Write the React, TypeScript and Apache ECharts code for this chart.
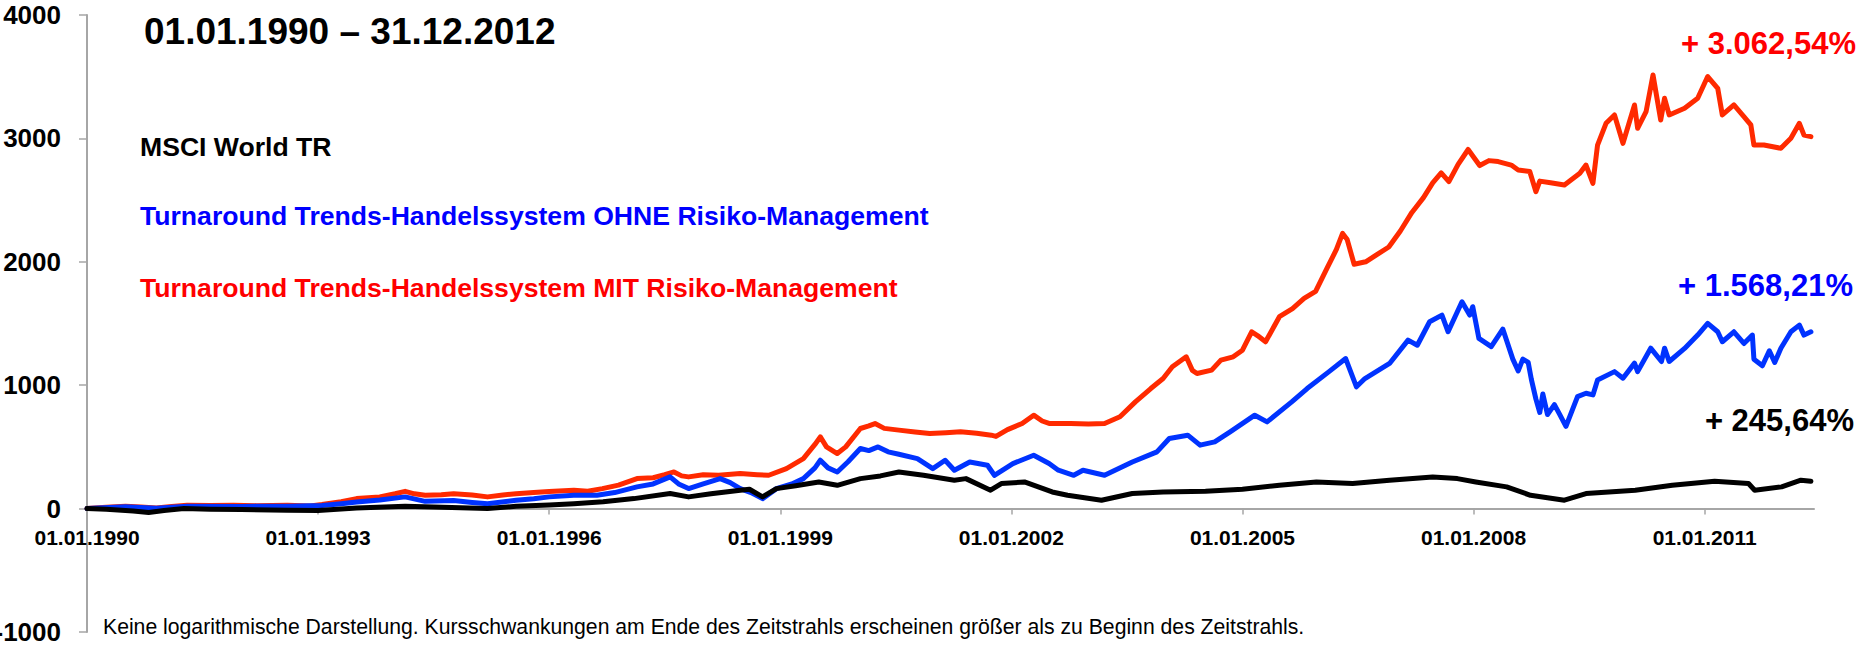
import React, { useEffect, useRef } from 'react';
import * as echarts from 'echarts';

const FONT = '"Liberation Sans", Arial, Helvetica, sans-serif';

// ---- axis ticks ----
const xTickYears = [1990, 1993, 1996, 1999, 2002, 2005, 2008, 2011];
const startYear = 1990;
const endYear = 2012.42;
const yMin = -1000;
const yMax = 4000;
const yStep = 1000;

// ---- texts ----
const titleText = '01.01.1990 \u2013 31.12.2012';
const seriesNames = [
  'MSCI World TR',
  'Turnaround Trends-Handelssystem OHNE Risiko-Management',
  'Turnaround Trends-Handelssystem MIT Risiko-Management',
];
const endLabels = ['+ 245,64%', '+ 1.568,21%', '+ 3.062,54%'];
const noteText =
  'Keine logarithmische Darstellung. Kursschwankungen am Ende des Zeitstrahls erscheinen größer als zu Beginn des Zeitstrahls.';

// ---- MIT Risiko-Management (red) ----
const redYears = [
  1990.0, 1990.25, 1990.5, 1990.7, 1990.9, 1991.1, 1991.3, 1991.6, 1991.9, 1992.2, 1992.6, 1992.9,
  1993.05, 1993.3, 1993.5, 1993.8, 1994.0, 1994.13, 1994.25, 1994.39, 1994.6, 1994.76, 1995.0,
  1995.2, 1995.4, 1995.57, 1995.8, 1996.0, 1996.32, 1996.5, 1996.69, 1996.9, 1997.14, 1997.35,
  1997.5, 1997.62, 1997.72, 1997.81, 1998.0, 1998.2, 1998.48, 1998.7, 1998.85, 1999.08, 1999.3,
  1999.45, 1999.52, 1999.6, 1999.74, 1999.85, 2000.04, 2000.15, 2000.23, 2000.35, 2000.54,
  2000.75, 2000.94, 2001.15, 2001.34, 2001.55, 2001.74, 2001.8, 2001.95, 2002.14, 2002.29,
  2002.4, 2002.49, 2002.77, 2003.0, 2003.21, 2003.41, 2003.61, 2003.81, 2003.97, 2004.09,
  2004.27, 2004.35, 2004.41, 2004.6, 2004.72, 2004.88, 2005.0, 2005.12, 2005.2, 2005.3, 2005.48,
  2005.65, 2005.8, 2005.95, 2006.1, 2006.22, 2006.3, 2006.36, 2006.45, 2006.6, 2006.75, 2006.9,
  2007.05, 2007.2, 2007.35, 2007.47, 2007.58, 2007.68, 2007.8, 2007.93, 2008.0, 2008.08, 2008.2,
  2008.32, 2008.49, 2008.58, 2008.73, 2008.81, 2008.86, 2009.0, 2009.18, 2009.38, 2009.46,
  2009.55, 2009.61, 2009.72, 2009.83, 2009.94, 2010.09, 2010.13, 2010.24, 2010.33, 2010.43,
  2010.48, 2010.54, 2010.74, 2010.91, 2011.04, 2011.17, 2011.23, 2011.38, 2011.51, 2011.6,
  2011.64, 2011.77, 2011.99, 2012.12, 2012.23, 2012.29, 2012.38,
];
const redValues = [
  0, 10, 20, 12, 5, 18, 27, 25, 28, 24, 27, 22,
  33, 55, 81, 95, 120, 140, 120, 108, 112, 121, 110,
  95, 110, 121, 130, 138, 149, 140, 162, 190, 243, 250,
  275, 297, 265, 257, 275, 270, 284, 275, 270, 324, 405,
  520, 581, 500, 446, 500, 649, 670, 689, 650, 636,
  620, 608, 615, 622, 610, 595, 585, 640, 690, 757,
  710, 690, 690, 685, 690, 744, 865, 973, 1054, 1149,
  1230, 1120, 1095, 1122, 1203, 1230, 1284, 1433, 1400, 1352, 1555,
  1620, 1703, 1760, 1950, 2100, 2230, 2180, 1980, 2000, 2060, 2120,
  2250, 2400, 2520, 2640, 2720, 2650, 2790, 2910, 2850, 2780, 2820,
  2812, 2784, 2744, 2731, 2568, 2654, 2640, 2622, 2717, 2784,
  2636, 2946, 3122, 3190, 2960, 3271, 3082, 3217, 3514, 3149,
  3325, 3190, 3244, 3325, 3501, 3406, 3190, 3271, 3177, 3109,
  2946, 2946, 2920, 3001, 3122, 3027, 3014,
];

// ---- OHNE Risiko-Management (blue) ----
const blueYears = [
  1990.0, 1990.5, 1990.9, 1991.3, 1992.0, 1992.6, 1993.05, 1993.3, 1993.5, 1993.8, 1994.13,
  1994.39, 1994.76, 1995.0, 1995.2, 1995.57, 1995.8, 1996.0, 1996.32, 1996.62, 1996.85, 1997.14,
  1997.35, 1997.57, 1997.68, 1997.81, 1998.0, 1998.22, 1998.35, 1998.48, 1998.62, 1998.77,
  1998.95, 1999.15, 1999.3, 1999.45, 1999.52, 1999.62, 1999.74, 1999.88, 2000.04, 2000.15,
  2000.27, 2000.4, 2000.54, 2000.78, 2000.98, 2001.14, 2001.26, 2001.46, 2001.69, 2001.78,
  2002.02, 2002.29, 2002.49, 2002.61, 2002.81, 2002.93, 2003.21, 2003.57, 2003.89, 2004.05,
  2004.29, 2004.45, 2004.64, 2004.84, 2005.16, 2005.32, 2005.64, 2005.84, 2006.12, 2006.34,
  2006.48, 2006.59, 2006.91, 2007.15, 2007.27, 2007.43, 2007.59, 2007.67, 2007.85, 2007.95,
  2007.99, 2008.07, 2008.23, 2008.38, 2008.51, 2008.58, 2008.64, 2008.71, 2008.75, 2008.81,
  2008.86, 2008.9, 2008.96, 2009.05, 2009.12, 2009.2, 2009.35, 2009.46, 2009.55, 2009.61,
  2009.83, 2009.94, 2010.09, 2010.13, 2010.3, 2010.44, 2010.48, 2010.54, 2010.74, 2010.91,
  2011.04, 2011.17, 2011.23, 2011.38, 2011.51, 2011.62, 2011.64, 2011.75, 2011.84, 2011.91,
  2011.99, 2012.12, 2012.23, 2012.29, 2012.38,
];
const blueValues = [
  0, 15, 3, 20, 18, 20, 25, 40, 54, 70, 95,
  59, 65, 50, 40, 67, 80, 95, 108, 108, 130, 176,
  200, 257, 200, 162, 200, 243, 210, 162, 130, 81,
  162, 200, 243, 330, 392, 330, 297, 380, 487, 470,
  500, 460, 440, 405, 324, 392, 311, 378, 351, 270,
  365, 432, 365, 311, 270, 311, 270, 378, 460, 568,
  595, 514, 541, 622, 757, 703, 865, 973, 1108, 1216,
  987, 1054, 1176, 1365, 1324, 1514, 1568, 1433, 1676, 1568,
  1636, 1379, 1312, 1455, 1211, 1116, 1211, 1184, 1049, 887,
  779, 929, 762, 843, 762, 667, 908, 935, 921, 1043,
  1110, 1057, 1179, 1110, 1300, 1192, 1300, 1192, 1298, 1406,
  1501, 1433, 1352, 1433, 1338, 1406, 1211, 1157, 1279, 1184,
  1300, 1433, 1487, 1406, 1433,
];

// ---- MSCI World TR (black) ----
const blackYears = [
  1990.0, 1990.25, 1990.6, 1990.8, 1991.0, 1991.26, 1991.6, 1992.0, 1992.6, 1993.0, 1993.5,
  1994.13, 1994.5, 1995.2, 1995.57, 1996.0, 1996.32, 1996.7, 1997.1, 1997.57, 1997.81, 1998.1,
  1998.48, 1998.6, 1998.77, 1998.95, 1999.2, 1999.5, 1999.74, 2000.04, 2000.3, 2000.54, 2000.86,
  2001.26, 2001.41, 2001.73, 2001.87, 2002.17, 2002.53, 2002.73, 2003.17, 2003.57, 2003.97,
  2004.52, 2005.0, 2005.48, 2005.96, 2006.43, 2006.91, 2007.47, 2007.79, 2008.03, 2008.43,
  2008.74, 2009.18, 2009.46, 2010.1, 2010.58, 2011.13, 2011.57, 2011.65, 2012.0, 2012.25, 2012.38,
];
const blackValues = [
  0, -5, -20, -32, -15, 0, -5, -8, -13, -15, 5,
  19, 12, 0, 19, 30, 40, 55, 81, 122, 95, 120,
  149, 157, 95, 162, 185, 216, 189, 243, 265, 297, 270,
  230, 243, 149, 203, 216, 135, 108, 68, 122, 135,
  140, 157, 189, 216, 203, 230, 257, 243, 216, 176,
  108, 68, 122, 149, 189, 222, 203, 149, 176, 230, 222,
];

const RED_LINE = '#FF2A00';
const BLUE_LINE = '#0033FF';
const BLACK_LINE = '#000000';

const GRID_TOP = 15;
const GRID_BOTTOM = 17;
const CHART_H = 649;

function toData(years: number[], values: number[]) {
  return years.map((y, i) => [y - startYear, values[i]]);
}

export default function App() {
  const ref = useRef<HTMLDivElement>(null);

  useEffect(() => {
    if (!ref.current) return;
    const chart = echarts.init(ref.current, null, { renderer: 'svg' });
    const tickOffsets = xTickYears.map((y) => y - startYear);
    // distance from the grid bottom (value yMin) up to value 0
    const plotH = CHART_H - GRID_TOP - GRID_BOTTOM;
    const zeroOffset = (plotH * (0 - yMin)) / (yMax - yMin);
    const lineSeries = (name: string, color: string, data: number[][]) => ({
      name,
      type: 'line',
      data,
      showSymbol: false,
      symbol: 'none',
      smooth: false,
      lineStyle: { color, width: 5, join: 'round', cap: 'round' },
      itemStyle: { color },
      emphasis: { disabled: true },
    });

    const option: any = {
      animation: false,
      backgroundColor: '#ffffff',
      grid: {
        left: 87,
        right: 50,
        top: GRID_TOP,
        bottom: GRID_BOTTOM,
        containLabel: false,
        outerBoundsMode: 'none',
      },
      xAxis: {
        type: 'value',
        position: 'bottom',
        offset: -zeroOffset,
        min: 0,
        max: endYear - startYear,
        interval: 3,
        axisLine: { show: true, onZero: false, lineStyle: { color: '#A6A6A6', width: 2 } },
        axisTick: {
          show: true,
          length: 6,
          inside: false,
          customValues: tickOffsets,
          lineStyle: { color: '#A6A6A6', width: 1.5 },
        },
        axisLabel: {
          show: true,
          customValues: tickOffsets,
          margin: 18,
          color: '#000',
          fontFamily: FONT,
          fontWeight: 'bold',
          fontSize: 21,
          formatter: (v: number) => '01.01.' + Math.round(startYear + v),
        },
        splitLine: { show: false },
      },
      yAxis: {
        type: 'value',
        min: yMin,
        max: yMax,
        interval: yStep,
        axisLine: { show: true, onZero: false, lineStyle: { color: '#A6A6A6', width: 2 } },
        axisTick: { show: true, length: 8, lineStyle: { color: '#A6A6A6', width: 1.5 } },
        axisLabel: {
          margin: 26,
          color: '#000',
          fontFamily: FONT,
          fontWeight: 'bold',
          fontSize: 26,
          formatter: (v: number) => String(v),
        },
        splitLine: { show: false },
      },
      series: [
        lineSeries(seriesNames[2], RED_LINE, toData(redYears, redValues)),
        lineSeries(seriesNames[1], BLUE_LINE, toData(blueYears, blueValues)),
        lineSeries(seriesNames[0], BLACK_LINE, toData(blackYears, blackValues)),
      ],
      graphic: [
        {
          type: 'text',
          left: 144,
          top: 13,
          style: { text: titleText, fill: '#000', font: `bold 37px ${FONT}` },
        },
        {
          type: 'text',
          left: 140,
          top: 133,
          style: { text: seriesNames[0], fill: '#000', font: `bold 26.6px ${FONT}` },
        },
        {
          type: 'text',
          left: 140,
          top: 202,
          style: { text: seriesNames[1], fill: '#0000FF', font: `bold 26.6px ${FONT}` },
        },
        {
          type: 'text',
          left: 140,
          top: 274,
          style: { text: seriesNames[2], fill: '#FF0000', font: `bold 26.6px ${FONT}` },
        },
        {
          type: 'text',
          right: 8,
          top: 28,
          style: { text: endLabels[2], fill: '#FF0000', font: `bold 31px ${FONT}` },
        },
        {
          type: 'text',
          right: 11,
          top: 270,
          style: { text: endLabels[1], fill: '#0000FF', font: `bold 31px ${FONT}` },
        },
        {
          type: 'text',
          right: 10,
          top: 405,
          style: { text: endLabels[0], fill: '#000', font: `bold 31px ${FONT}` },
        },
        {
          type: 'text',
          left: 103,
          top: 616,
          style: { text: noteText, fill: '#000', font: `21.2px ${FONT}` },
        },
      ],
    };
    chart.setOption(option);
    return () => chart.dispose();
  }, []);

  return (
    <div
      ref={ref}
      style={{ position: 'fixed', left: 0, top: 0, width: 1864, height: 649, background: '#fff' }}
    />
  );
}
